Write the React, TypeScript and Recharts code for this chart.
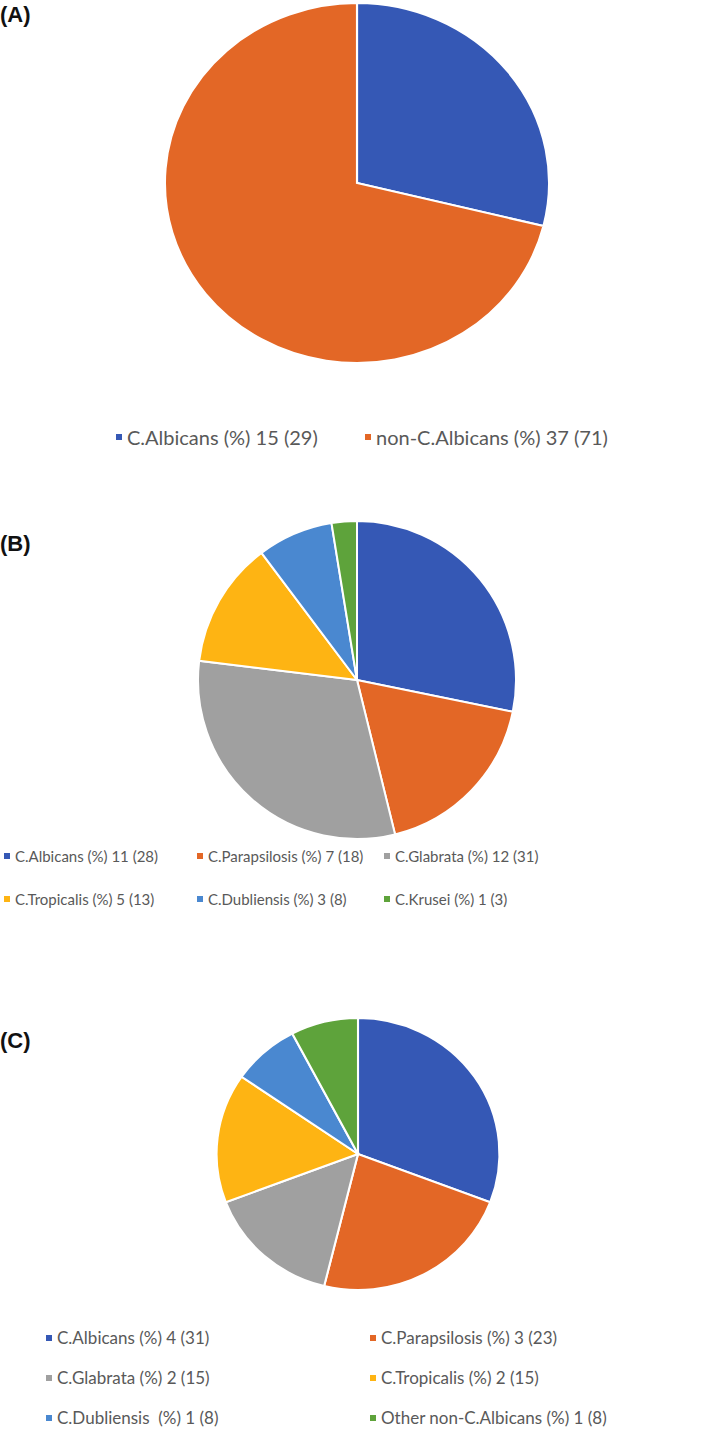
import React from 'react'
import { PieChart, Pie, Cell } from 'recharts'

const BLUE = '#3558b5'
const ORANGE = '#e36726'
const GRAY = '#a0a0a0'
const YELLOW = '#feb413'
const LIGHT_BLUE = '#4a88d0'
const GREEN = '#5ea33b'

// (A) albicans vs non-albicans
const namesA = ['C.Albicans', 'non-C.Albicans']
const countsA = [15, 37]
const pctA = [29, 71]
const colorsA = [BLUE, ORANGE]

// (B)
const namesB = ['C.Albicans', 'C.Parapsilosis', 'C.Glabrata', 'C.Tropicalis', 'C.Dubliensis', 'C.Krusei']
const countsB = [11, 7, 12, 5, 3, 1]
const pctB = [28, 18, 31, 13, 8, 3]
const colorsB = [BLUE, ORANGE, GRAY, YELLOW, LIGHT_BLUE, GREEN]

// (C)
const namesC = ['C.Albicans', 'C.Parapsilosis', 'C.Glabrata', 'C.Tropicalis', 'C.Dubliensis ', 'Other non-C.Albicans']
const countsC = [4, 3, 2, 2, 1, 1]
const pctC = [31, 23, 15, 15, 8, 8]
const colorsC = [BLUE, ORANGE, GRAY, YELLOW, LIGHT_BLUE, GREEN]

const toRows = (names: string[], counts: number[], pct: number[]) =>
  names.map((name, i) => ({ name, value: counts[i], label: `${name} (%) ${counts[i]} (${pct[i]})` }))

const LEGEND_FONT = "Lato, 'Open Sans', sans-serif"

interface PanelProps {
  data: { name: string; value: number; label: string }[]
  colors: string[]
  top: number
  height: number
  cx: number
  cy: number
  r: number
  sx: number
}

function PiePanel({ data, colors, top, height, cx, cy, r, sx }: PanelProps) {
  return (
    <div
      style={{
        position: 'absolute',
        left: 0,
        top,
        width: 709,
        height,
        transform: `scaleX(${sx})`,
        transformOrigin: `${cx}px ${cy}px`,
      }}
    >
      <PieChart width={709} height={height} margin={{ top: 0, right: 0, bottom: 0, left: 0 }}>
        <Pie
          data={data}
          dataKey="value"
          nameKey="name"
          cx={cx}
          cy={cy}
          outerRadius={r}
          startAngle={90}
          endAngle={-270}
          stroke="#ffffff"
          strokeWidth={2}
          isAnimationActive={false}
        >
          {data.map((d, i) => (
            <Cell key={d.name} fill={colors[i]} />
          ))}
        </Pie>
      </PieChart>
    </div>
  )
}

function LegendGrid({
  data,
  colors,
  xs,
  ys,
  fontSize,
}: {
  data: { label: string }[]
  colors: string[]
  xs: number[]
  ys: number[]
  fontSize: number
}) {
  return (
    <>
      {data.map((d, i) => {
        const x = xs[i % xs.length]
        const y = ys[Math.floor(i / xs.length)]
        return (
          <div
            key={i}
            style={{
              position: 'absolute',
              left: x,
              top: y - fontSize * 0.7,
              height: fontSize * 1.4,
              display: 'flex',
              alignItems: 'center',
              whiteSpace: 'pre',
              fontFamily: LEGEND_FONT,
              fontSize,
              color: '#595959',
            }}
          >
            <span style={{ width: 6, height: 6, background: colors[i], marginRight: 5, display: 'inline-block' }} />
            {d.label}
          </div>
        )
      })}
    </>
  )
}

const headStyle: React.CSSProperties = {
  position: 'absolute',
  left: 0,
  fontFamily: "'Liberation Sans Narrow', 'Liberation Sans', Arial, sans-serif",
  fontWeight: 'bold',
  fontSize: 22,
  color: '#111',
  lineHeight: '22px',
}

export default function App() {
  const dataA = toRows(namesA, countsA, pctA)
  const dataB = toRows(namesB, countsB, pctB)
  const dataC = toRows(namesC, countsC, pctC)
  return (
    <div style={{ position: 'absolute', left: 0, top: 0, width: 709, height: 1435, background: '#fff', overflow: 'hidden' }}>
      <div style={{ ...headStyle, top: 4 }}>(A)</div>
      <PiePanel data={dataA} colors={colorsA} top={0} height={370} cx={357} cy={183} r={180} sx={1.067} />
      <LegendGrid data={dataA} colors={colorsA} xs={[116, 365]} ys={[437]} fontSize={20} />

      <div style={{ ...headStyle, top: 533 }}>(B)</div>
      <PiePanel data={dataB} colors={colorsB} top={515} height={330} cx={357} cy={165} r={159} sx={1} />
      <LegendGrid data={dataB} colors={colorsB} xs={[4, 197, 384]} ys={[856, 899]} fontSize={15} />

      <div style={{ ...headStyle, top: 1030 }}>(C)</div>
      <PiePanel data={dataC} colors={colorsC} top={1010} height={290} cx={358} cy={144} r={136} sx={1.04} />
      <LegendGrid data={dataC} colors={colorsC} xs={[46, 370]} ys={[1338, 1378, 1418]} fontSize={17} />
    </div>
  )
}
